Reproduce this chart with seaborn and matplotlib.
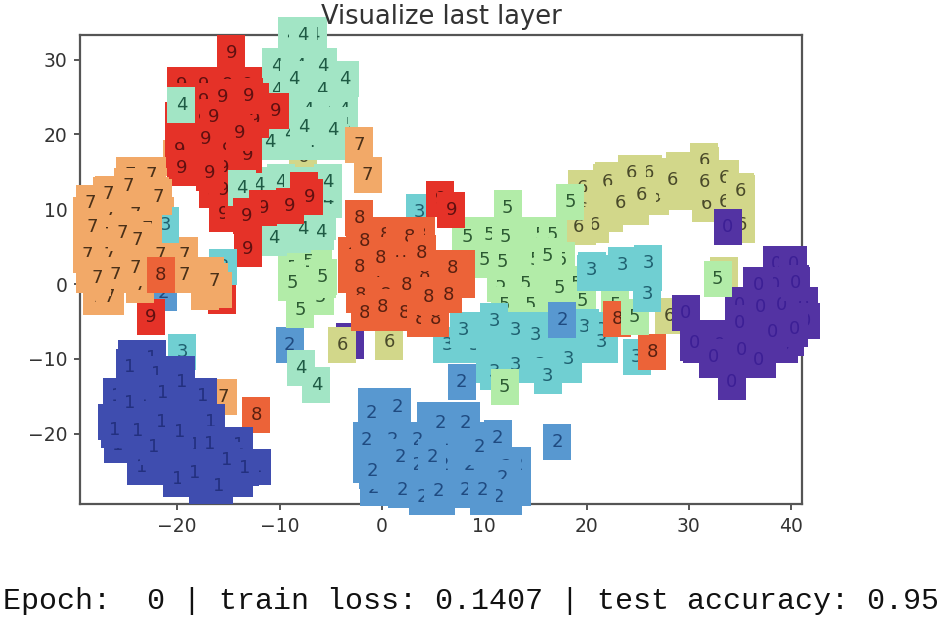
import matplotlib
matplotlib.use("Agg")
import matplotlib.pyplot as plt
import seaborn as sns
from matplotlib.path import Path

title_text = "Visualize last layer"
footer_text = "Epoch:  0 | train loss: 0.1407 | test accuracy: 0.95"
x_ticks = [-20, -10, 0, 10, 20, 30, 40]
y_ticks = [-20, -10, 0, 10, 20, 30]
digit_colors = ["#5333A3", "#3F4DAF", "#5898D0", "#70CFD2", "#A2E5C5",
                "#B2ECA8", "#D2D78A", "#F2A968", "#EC6338", "#E53228"]
text_colors = ["#3C1F95", "#23307F", "#1F4A80", "#1F6070", "#1E5A44",
               "#2C5A32", "#4A4A2A", "#4A3018", "#5A2010", "#601010"]

x0_back = [-3.1]
y0_back = [-7.6]
x2_fill = [-1.0, 1.5, -1.0, 1.5, 4.8, 7.0, 8.2, -1.5, 1.0, 3.5, 6.0, 8.5, 11.1, -1.5, 1.0, 3.5, 6.0, 8.5, 11.0, 13.2, -0.8, 1.5, 4.0, 6.5, 9.0, 11.5, 13.2, 4.4, 5.8, 10.0, 12.3, 8.2, 12.2, 11.8, 4.0, 11.4, 2.0, 8.2]
y2_fill = [-16.3, -16.3, -18.2, -18.2, -18.2, -18.2, -18.2, -20.9, -20.9, -20.9, -20.9, -20.9, -20.9, -24.2, -24.2, -24.2, -24.2, -24.2, -24.2, -24.2, -27.3, -27.3, -27.3, -27.3, -27.3, -27.3, -27.3, -28.5, -28.5, -28.5, -28.5, -18.6, -24.5, -25.9, -28.5, -28.5, -27.5, -27.5]
x2_vis = [-1.0, 1.5, 5.7, 9.5, 1.8, 4.9, -0.9, 11.3, 9.8, 5.5, 17.1, -9.0]
y2_vis = [-17.2, -16.4, -18.6, -21.8, -23.1, -23.1, -25.0, -20.6, -27.5, -27.7, -21.1, -8.2]
x6_fill = [19.6, 19.6, 19.6, 22.2, 22.2, 24.7, 24.7, 26.7, 26.7, 29.1, 29.1, 31.6, 31.6, 33.5, 33.5, 35.1, 35.1, 31.5, 22.0, 26.0, 24.4, 31.7, 20.8, 33.4]
y6_fill = [12.8, 9.9, 7.6, 13.9, 9.4, 14.4, 10.3, 14.4, 11.6, 15.2, 12.3, 15.9, 12.3, 14.2, 11.0, 12.2, 7.9, 16.4, 13.6, 14.8, 14.8, 10.7, 7.9, 1.2]
x6_vis = [31.5, 28.4, 25.4, 23.3, 35.0, 19.2, 28.1, -3.9, 0.7]
y6_vis = [13.6, 13.9, 11.9, 10.8, 12.4, 7.6, -4.3, -8.2, -7.8]
x0_fill = [38.6, 40.2, 36.7, 38.4, 40.5, 34.9, 37.0, 39.0, 41.2, 29.7, 30.8, 33.0, 35.5, 37.9, 39.9, 41.4, 30.8, 33.0, 35.5, 37.9, 39.3, 32.4, 34.9, 37.1, 34.2]
y0_fill = [2.7, 2.7, -0.1, -0.1, -0.1, -2.8, -2.8, -2.8, -2.8, -3.9, -7.2, -7.2, -7.2, -7.2, -7.2, -5.0, -8.2, -8.2, -8.2, -8.2, -8.2, -10.2, -10.2, -10.2, -13.1]
x0_vis = [33.8, 32.4, 35.1, 34.9, 37.0, 38.2, 40.3, 40.4, 36.8, 36.8, 30.5]
y0_vis = [7.6, -9.8, -8.8, -5.2, -3.1, -6.4, -6.0, 0.1, -0.1, -10.2, -7.9]
x5_fill = [8.2, 10.5, 13.0, 15.5, 16.7, 10.0, 12.5, 15.0, 17.5, 11.6, 14.0, 16.5, 19.0, 12.0, 14.5, 17.0, 19.5, 14.5, 17.0, 22.8, -8.8, -6.2, -8.0, -6.0, -5.9, -8.8, -7.2, 12.3]
y5_fill = [6.6, 6.6, 6.6, 6.6, 6.6, 3.2, 3.2, 3.2, 3.2, 0.0, 0.0, 0.0, 0.0, -2.8, -2.8, -2.8, -2.8, -5.5, -5.5, -2.8, 2.1, 2.1, -3.5, -1.7, 0.5, 0.5, 3.0, 10.2]
x5_vis = [12.3, 8.3, 12.1, 11.8, 16.2, 17.3, 19.6, -8.8, -5.8]
y5_vis = [10.2, 6.3, 6.3, 2.9, 3.7, -0.5, -2.3, 0.1, 0.9]
x3_fill = [6.4, 9.0, 11.5, 14.0, 16.5, 19.0, 21.7, 8.0, 10.5, 13.0, 15.5, 18.0, 20.5, 21.5, 10.6, 13.0, 15.5, 18.2, 11.0, 20.4, 22.5, 24.7, 26.0, 26.0, 24.9, 23.5, 19.8]
y3_fill = [-8.2, -8.2, -8.2, -8.2, -8.2, -8.2, -8.2, -6.2, -6.2, -6.2, -6.2, -6.2, -6.2, -6.2, -10.8, -10.8, -10.8, -10.8, -11.8, 1.5, 1.5, 1.5, 1.5, 2.7, -9.8, 2.5, -5.7]
x3_vis = [11.0, 15.0, 21.5, 18.2, 16.2, 20.5, 26.0, 3.7]
y3_vis = [-4.9, -6.8, -7.8, -10.0, -12.3, 1.9, 2.8, 9.6]
x2_over = [7.8, 17.6]
y2_over = [-13.1, -4.8]
x5_over = [12.0, 18.4, 32.8]
y5_over = [-13.8, 11.0, 0.7]
x8_fill = [-2.1, 0.3, 1.8, 3.8, -2.9, -0.7, 1.8, 3.8, 5.7, 7.7, -2.9, -0.7, 1.8, 4.2, 6.2, 7.7, -2.1, 0.3, 2.7, 5.2, 6.5, -1.7, 0.3, 2.2, 3.8, 5.2, 2.7]
y8_fill = [6.6, 6.6, 6.6, 6.6, 3.9, 3.9, 3.9, 3.9, 2.1, 2.1, 1.2, 1.2, 1.2, 1.2, 1.2, 0.5, -1.5, -1.5, -1.5, -1.5, -1.5, -3.9, -3.9, -3.9, -4.7, -4.7, 6.3]
x8_vis = [-2.2, -1.7, 3.9, -0.1, -2.2, 6.9, 2.4, 4.5, 0.1, 23.0, 26.4]
y8_vis = [8.8, 5.7, 4.1, 3.5, 2.3, 2.1, -0.1, -1.7, -3.1, -4.7, -9.1]
x5_top = [24.7]
y5_top = [-4.4]
x3_top = [25.9]
y3_top = [-1.3]
x9_mid = [5.7]
y9_mid = [11.4]
x9_mid_vis = [6.8]
y9_mid_vis = [9.9]
x7_back = [-20.0]
y7_back = [16.8]
x6_low = [-7.7]
y6_low = [17.0]
x4_fill = [-8.8, -6.7, -10.3, -8.0, -5.8, -10.3, -8.0, -5.9, -3.7, -9.5, -7.2, -5.0, -3.7, -9.3, -7.0, -4.8, -3.7, -11.0, -9.0, -7.0, -5.0, -4.6, -12.0, -10.0, -8.0, -6.0, -5.3, -6.0, -5.3, -5.9, -10.6, -8.3, -6.0]
y4_fill = [33.3, 33.3, 29.1, 29.1, 29.1, 25.9, 25.9, 25.9, 25.9, 23.3, 23.3, 23.3, 23.3, 21.3, 21.3, 21.3, 21.3, 19.0, 19.0, 19.0, 19.0, 19.0, 13.2, 13.2, 13.2, 13.2, 13.2, 11.2, 11.2, 8.3, 6.1, 6.6, 7.0]
x4_vis = [-7.7, -8.6, -3.6, -9.0, -4.8, -9.9, -5.3, -10.6, -7.7, -7.9, -6.4]
y4_vis = [33.3, 27.4, 27.4, 20.1, 20.6, 13.6, 13.6, 6.1, 7.4, -11.2, -13.5]
x9_fill = [-19.6, -17.4, -15.1, -13.1, -19.6, -17.4, -15.1, -13.0, -12.4, -19.8, -17.4, -15.1, -13.0, -12.4, -19.7, -17.4, -15.1, -13.1, -19.8, -17.4, -15.1, -13.1, -19.6, -17.4, -15.5, -13.1, -16.5, -15.5, -15.5, -14.0, -13.1, -13.1]
y9_fill = [26.6, 26.6, 26.6, 26.6, 24.5, 24.5, 24.5, 24.5, 24.5, 21.9, 21.9, 21.9, 21.9, 21.9, 19.2, 19.2, 19.2, 19.2, 17.9, 17.9, 17.9, 17.9, 15.5, 15.5, 15.5, 17.2, 12.6, 12.6, 9.4, 9.4, 7.0, 4.7]
x9_vis = [-14.7, -15.6, -13.0, -16.4, -17.2, -13.9, -10.4, -16.8]
y9_vis = [30.9, 25.0, 25.1, 22.3, 19.4, 20.2, 23.1, 14.8]
x4_over = [-19.6, -13.7, -7.6, -8.2]
y4_over = [23.9, 12.8, 21.0, 12.6]
x9_over = [-11.6, -7.6]
y9_over = [10.2, 12.6]
x9_over_vis = [-13.2, -9.0, -7.1]
y9_over_vis = [9.1, 10.4, 11.6]
x2_left = [-28.5, -21.4]
y2_left = [4.5, -1.2]
x9_low = [-15.6]
y9_low = [-1.6]
x9_low_vis = [-22.6]
y9_low_vis = [-4.4]
x3_hidden = [-15.5]
y3_hidden = [2.3]
x7_fill = [-24.6, -22.5, -26.9, -24.6, -22.2, -28.8, -26.6, -24.1, -21.7, -28.8, -26.6, -24.1, -22.0, -28.8, -26.6, -24.1, -21.7, -19.3, -28.5, -26.1, -23.6, -21.2, -19.3, -16.8, -27.8, -26.6, -23.6, -17.3, -16.0]
y7_fill = [14.6, 14.6, 11.9, 11.9, 11.9, 9.2, 9.2, 9.2, 9.2, 6.6, 6.6, 6.6, 6.6, 3.9, 3.9, 3.9, 3.9, 3.9, 1.2, 1.2, 1.2, 1.2, 1.2, 1.2, -1.7, -1.7, -0.1, -1.1, -0.8]
x3_over7 = [-21.2]
y3_over7 = [7.9]
x7_cover = [-22.9]
y7_cover = [7.4]
x7_vis = [-24.8, -26.7, -28.5, -21.9, -28.3, -25.4, -23.9, -24.1, -27.8, -19.3, -16.4, -2.2, -1.4]
y7_vis = [13.1, 12.0, 10.8, 11.6, 7.6, 6.8, 5.9, 2.1, 0.8, 1.2, 0.4, 18.6, 14.6]
x8_left = [-21.6, -12.3]
y8_left = [1.2, -17.5]
x3_low = [-19.5]
y3_low = [-9.1]
x7_low = [-15.5]
y7_low = [-15.1]
x1_fill = [-24.4, -22.5, -24.5, -22.0, -19.6, -25.9, -23.5, -21.0, -18.5, -17.5, -26.4, -24.0, -21.5, -19.0, -16.7, -25.8, -23.3, -20.8, -18.3, -16.0, -14.0, -23.5, -21.0, -18.5, -16.0, -13.5, -12.2, -20.0, -17.5, -15.0, -14.0, -17.5, -15.9]
y1_fill = [-9.9, -9.9, -12.0, -12.0, -12.0, -15.0, -15.0, -15.0, -15.0, -15.0, -18.5, -18.5, -18.5, -18.5, -18.5, -21.5, -21.5, -21.5, -21.5, -21.5, -21.5, -24.5, -24.5, -24.5, -24.5, -24.5, -24.5, -26.0, -26.0, -26.0, -26.0, -27.0, -27.0]
x1_vis = [-24.6, -19.6, -21.4, -24.6, -26.1, -23.9, -19.8, -22.3, -16.8, -13.4, -18.3, -15.2]
y1_vis = [-11.1, -13.1, -14.6, -15.9, -19.5, -19.7, -19.8, -21.8, -21.4, -24.6, -25.3, -23.5]

# (digit, mostly covered points x, y, readable points x, y) in drawing order
layers = [(0, x0_back, y0_back, [], []), (2, x2_fill, y2_fill, x2_vis, y2_vis),
          (6, x6_fill, y6_fill, x6_vis, y6_vis), (0, x0_fill, y0_fill, x0_vis, y0_vis),
          (5, x5_fill, y5_fill, x5_vis, y5_vis), (3, x3_fill, y3_fill, x3_vis, y3_vis),
          (2, [], [], x2_over, y2_over), (5, [], [], x5_over, y5_over),
          (8, x8_fill, y8_fill, x8_vis, y8_vis), (5, [], [], x5_top, y5_top),
          (3, [], [], x3_top, y3_top), (9, x9_mid, y9_mid, x9_mid_vis, y9_mid_vis),
          (7, x7_back, y7_back, [], []), (6, x6_low, y6_low, [], []),
          (4, x4_fill, y4_fill, x4_vis, y4_vis),
          (9, x9_fill, y9_fill, x9_vis, y9_vis),
          (4, [], [], x4_over, y4_over), (9, x9_over, y9_over, x9_over_vis, y9_over_vis),
          (2, x2_left, y2_left, [], []), (9, x9_low, y9_low, x9_low_vis, y9_low_vis),
          (3, x3_hidden, y3_hidden, [], []), (7, x7_fill, y7_fill, [], []),
          (3, [], [], x3_over7, y3_over7), (7, x7_cover, y7_cover, [], []),
          (7, [], [], x7_vis, y7_vis), (8, [], [], x8_left, y8_left),
          (3, [], [], x3_low, y3_low), (7, [], [], x7_low, y7_low),
          (1, x1_fill, y1_fill, x1_vis, y1_vis)]

sns.set_style("ticks")
plt.rcParams["font.family"] = ["DejaVu Sans"]

fig = plt.figure(figsize=(9.45, 6.21), dpi=100)
ax = fig.add_axes([80 / 945, 1 - 504 / 621, 722 / 945, 469 / 621])

box = Path([(-14, -18), (14, -18), (14, 18), (-14, 18), (-14, -18)], closed=True)
z = 3.0


def draw_box(digit, xs, ys, order):
    sns.scatterplot(x=xs, y=ys, color=digit_colors[digit], marker=box, s=672,
                    linewidth=0, edgecolor="none", clip_on=False, zorder=order,
                    legend=False, ax=ax)


def draw_digit(digit, px, py, order):
    ax.text(px, py, str(digit), color=text_colors[digit], fontsize=13,
            ha="center", va="center", zorder=order, clip_on=False)


for digit, xf, yf, xv, yv in layers:
    for px, py in zip(xf, yf):
        draw_box(digit, [px], [py], z)
        draw_digit(digit, px, py, z + 0.001)
        z += 0.01
    if xv:
        draw_box(digit, xv, yv, z)
        for px, py in zip(xv, yv):
            draw_digit(digit, px, py, z + 0.001)
        z += 0.01

ax.set_xlim(-29.5, 41.05)
ax.set_ylim(-29.4, 33.3)
ax.set_xticks(x_ticks)
ax.set_yticks(y_ticks)
ax.tick_params(labelsize=13.5, length=4, width=1.4, color="#555555", labelcolor="#333333", pad=5)
for sp in ax.spines.values():
    sp.set_linewidth(1.6)
    sp.set_color("#555555")
    sp.set_visible(True)
ax.set_title(title_text, fontsize=18.5, color="#333333", pad=8)
ax.title.set_zorder(10000)
fig.text(3 / 945, 1 - 601 / 621, footer_text, family="Liberation Mono", fontsize=21.65,
         color="#111111", ha="left", va="center")
fig.savefig("out.png", dpi=100)
